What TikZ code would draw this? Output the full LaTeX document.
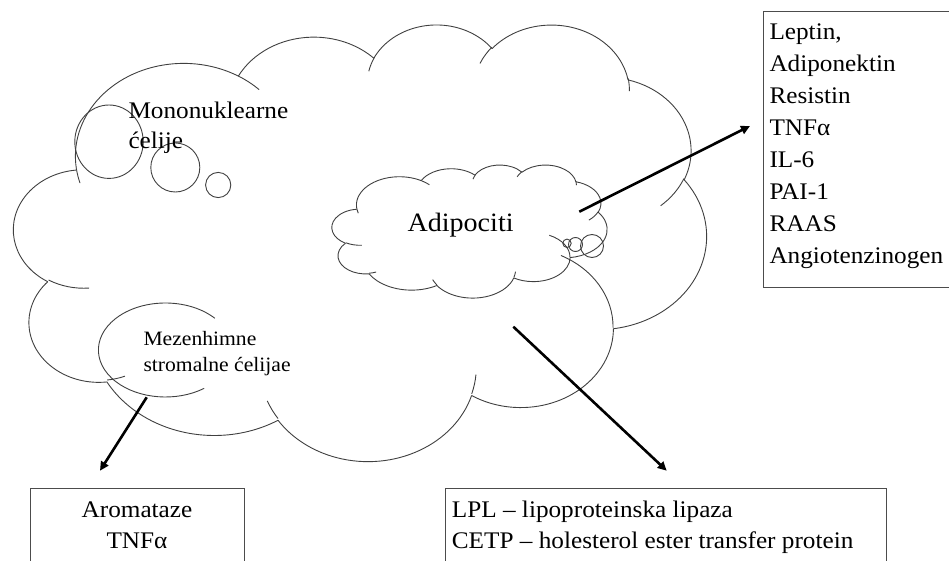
\documentclass[tikz,border=0pt]{standalone}
\usepackage{fontspec}
\setmainfont[FakeStretch=1.06]{Liberation Serif}
\usetikzlibrary{arrows.meta}

% --- cloud outline built from elliptical arcs (angles as seen, in degrees) ---
% geometry units: 0..432 in both directions, mapped to the box
% (\cldbx,\cldby) with scale (\cldsx,\cldsy); y grows downward.
\newcommand\cldstart[2]{\pgfmathsetmacro\cldpx{#1}\pgfmathsetmacro\cldpy{#2}}
\newcommand\cldarc[4]{%
  \pgfmathsetmacro\cldca{#3}%
  \pgfmathsetmacro\cldcb{#3+#4}%
  \pgfmathsetmacro\cldta{atan2(#1*sin(\cldca),#2*cos(\cldca))}%
  \pgfmathsetmacro\cldta{\cldta+360*round((\cldca-\cldta)/360)}%
  \pgfmathsetmacro\cldtb{atan2(#1*sin(\cldcb),#2*cos(\cldcb))}%
  \pgfmathsetmacro\cldtb{\cldtb+360*round((\cldcb-\cldtb)/360)}%
  \pgfmathsetmacro\cldcx{\cldpx-#1*cos(\cldta)}%
  \pgfmathsetmacro\cldcy{\cldpy-#2*sin(\cldta)}%
  \pgfmathsetmacro\cldrx{\cldsx*#1}%
  \pgfmathsetmacro\cldry{\cldsy*#2}%
  \pgfmathsetmacro\cldqx{\cldbx+\cldsx*\cldpx}%
  \pgfmathsetmacro\cldqy{-\cldby-\cldsy*\cldpy}%
  \pgfmathsetmacro\cldsa{-\cldta}%
  \pgfmathsetmacro\cldea{-\cldtb}%
  \draw[cloudline] (\cldqx pt,\cldqy pt)
     arc[x radius=\cldrx pt, y radius=\cldry pt, start angle=\cldsa, end angle=\cldea];
  \pgfmathsetmacro\cldpx{\cldcx+#1*cos(\cldtb)}%
  \pgfmathsetmacro\cldpy{\cldcy+#2*sin(\cldtb)}%
}
\newcommand\cldshape{%
  % outer lobes
  \cldstart{39.00}{143.70}%
  \cldarc{67.53}{91.90}{-190.487483}{123.780533}%
  \cldarc{53.33}{72.67}{-144.102383}{89.945233}%
  \cldarc{43.65}{59.45}{-145.807917}{99.723017}%
  \cldarc{48.57}{65.95}{-130.986067}{117.241733}%
  \cldarc{53.33}{72.73}{-78.708883}{109.026917}%
  \cldarc{67.75}{92.20}{-46.26725}{130.269}%
  \cldarc{57.85}{78.67}{0.625017}{114.033333}%
  \cldarc{67.52}{92.15}{22.4516}{115.17255}%
  \cldarc{77.20}{105.43}{66.242633}{75.711017}%
  \cldarc{43.60}{59.18}{-274.942083}{146.735567}%
  \cldarc{43.45}{59.45}{-246.8285}{152.51885}%
  % inner folds
  \cldstart{46.93}{261.77}\cldarc{43.45}{59.45}{86.742}{26.4295}%
  \cldstart{69.28}{348.99}\cldarc{43.60}{59.18}{73.610467}{11.447467}%
  \cldstart{164.78}{390.90}\cldarc{67.52}{92.15}{137.62415}{14.0811}%
  \cldstart{288.27}{347.51}\cldarc{67.52}{92.15}{6.453267}{15.99835}%
  \cldstart{341.29}{229.54}\cldarc{57.85}{78.67}{-70.29235}{70.917367}%
  \cldstart{417.98}{153.54}\cldarc{53.33}{72.73}{30.318033}{27.7515}%
  \cldstart{383.24}{54.26}\cldarc{48.57}{65.95}{-13.744333}{14.8589}%
  \cldstart{290.78}{39.52}\cldarc{48.57}{65.95}{-149.18145}{18.195367}%
  \cldstart{221.41}{47.20}\cldarc{43.65}{59.45}{-163.494267}{17.68635}%
  \cldstart{140.00}{51.92}\cldarc{67.53}{91.90}{-66.70695}{12.31935}%
  \cldstart{41.27}{157.89}\cldarc{67.53}{91.90}{157.65435}{11.858167}%
}

\tikzset{
  cloudline/.style={draw=black!75, line width=0.9pt},
  listbox/.style={draw=black!70, line width=1pt},
  txt/.style={inner sep=0pt, font=\fontsize{23.8}{28}\selectfont},
  smalltxt/.style={inner sep=0pt, font=\fontsize{20.4}{24}\selectfont},
  bigtxt/.style={inner sep=0pt, font=\fontsize{26.5}{30}\selectfont},
  flow/.style={line width=2.6pt, -{Triangle[length=9pt,width=8.5pt]}},
}

\begin{document}
\begin{tikzpicture}[x=1pt,y=1pt]
\useasboundingbox (0,0) rectangle (949,-561);

% large tissue cloud
\def\cldbx{13.88}\def\cldby{23.55}\def\cldsx{1.6029}\def\cldsy{1.0104}
\cldshape

% adipocyte cloud
\def\cldbx{332}\def\cldby{164.6}\def\cldsx{0.6366}\def\cldsy{0.3079}
\cldshape
\draw[cloudline] (567,-243.3) circle[radius=4.2pt];
\draw[cloudline] (575.5,-244.5) circle[radius=7pt];
\draw[cloudline] (592,-246) circle[radius=11.5pt];

% mononuclear cell bubbles
\draw[cloudline] (109,-141.7) ellipse[x radius=34.2pt, y radius=36.7pt];
\draw[cloudline] (175.3,-167.5) circle[radius=24.5pt];
\draw[cloudline] (218.2,-185) circle[radius=12.6pt];

% mesenchymal stromal cell outline
\draw[cloudline] (165.4,-350) ++(42.4:67pt and 47pt)
   arc[start angle=42.4, end angle=305.3, x radius=67pt, y radius=47pt];

% labels inside the clouds
\node[txt, anchor=base west] (mono1) at (128.3,-119) {Mononuklearne};
\node[txt, anchor=base west] (mono2) at (128.3,-148.5) {ćelije};
\node[bigtxt, anchor=base west] (adip) at (407.3,-231.5) {Adipociti};
\node[smalltxt, anchor=base west] (mez1) at (143.3,-345) {Mezenhimne};
\node[smalltxt, anchor=base west] (mez2) at (143.3,-371.5) {stromalne ćelijae};

% secreted products, right
\node[listbox, anchor=north west, minimum width=200pt, minimum height=275.7pt, inner sep=0pt] (rbox) at (763,-11) {};
\foreach \t [count=\i from 0] in {Leptin,{Adiponektin},Resistin,TNFα,IL-6,PAI-1,RAAS,Angiotenzinogen}{
  \node[txt, anchor=base west] (r\i) at (769.3,-40-31.9*\i) {\ifnum\i=0 Leptin,\else\t\fi};
}

% bottom boxes
\node[listbox, anchor=north west, minimum width=214.3pt, minimum height=90pt, inner sep=0pt] (lbox) at (30,-488.3) {};
\node[txt, anchor=base] (arom) at (137,-517.7) {Aromataze};
\node[txt, anchor=base] (tnfl) at (137,-548) {TNFα};
\node[listbox, anchor=north west, minimum width=441pt, minimum height=90pt, inner sep=0pt] (bbox) at (445,-488.3) {};
\node[txt, anchor=base west] (lpl) at (451.7,-517.7) {LPL – lipoproteinska lipaza};
\node[txt, anchor=base west] (cetp) at (451.7,-548) {CETP – holesterol ester transfer protein};

% arrows
\coordinate (a1s) at (579.3,-211.7);
\coordinate (a1e) at (750,-126);
\coordinate (a2s) at (146.7,-397.3);
\coordinate (a2e) at (100,-470.7);
\coordinate (a3s) at (513.3,-326.7);
\coordinate (a3e) at (666.7,-470.7);
\draw[flow] (a1s) -- (a1e);
\draw[flow] (a2s) -- (a2e);
\draw[flow] (a3s) -- (a3e);
\end{tikzpicture}
\end{document}
